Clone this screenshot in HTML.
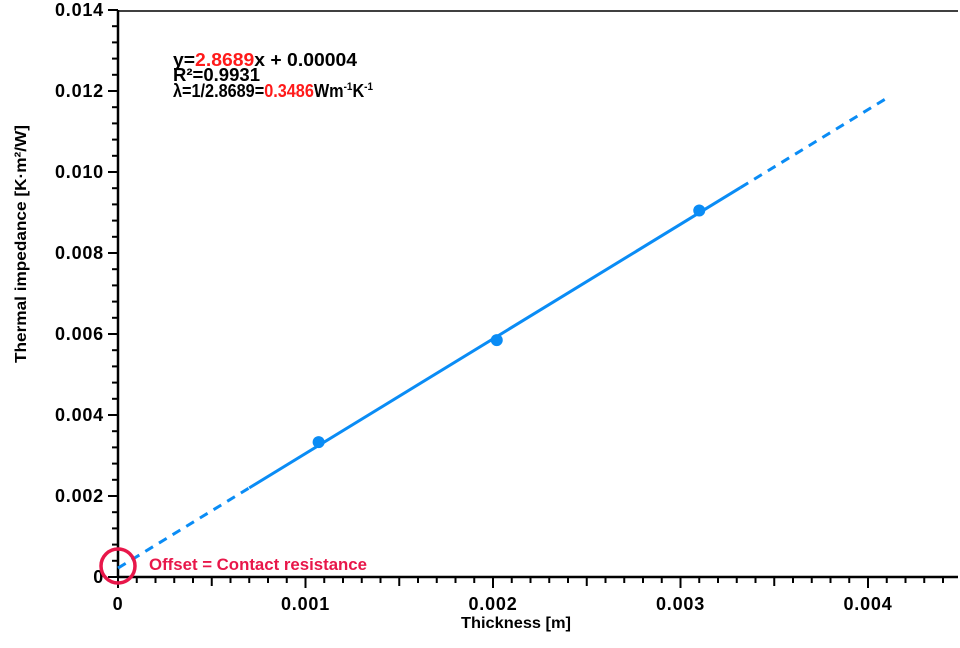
<!DOCTYPE html>
<html><head><meta charset="utf-8"><style>
html,body{margin:0;padding:0;background:#fff;}
svg{display:block;font-family:"Liberation Sans",sans-serif;font-weight:bold;}
</style></head><body>
<svg id="chart" width="960" height="648" viewBox="0 0 960 648">
<g id="axes"></g><g id="marks"></g>
<text x="173" y="66" font-size="18" textLength="184" lengthAdjust="spacingAndGlyphs">y=<tspan fill="#ff1a1a">2.8689</tspan>x + 0.00004</text>
<text x="173" y="81" font-size="18" textLength="87" lengthAdjust="spacingAndGlyphs">R²=0.9931</text>
<text x="173" y="97" font-size="18" textLength="200" lengthAdjust="spacingAndGlyphs">λ=1/2.8689=<tspan fill="#ff1a1a">0.3486</tspan>Wm<tspan font-size="11" dy="-7">-1</tspan><tspan dy="7">K</tspan><tspan font-size="11" dy="-7">-1</tspan></text>
<circle cx="118" cy="566" r="17" fill="none" stroke="#e8174a" stroke-width="3.5"/>
<text x="149" y="570" font-size="17" textLength="218" lengthAdjust="spacingAndGlyphs" fill="#e8174a">Offset = Contact resistance</text>
<text x="516" y="628" font-size="16" text-anchor="middle" textLength="110" lengthAdjust="spacingAndGlyphs">Thickness [m]</text>
<text transform="translate(26,244) rotate(-90)" font-size="16" text-anchor="middle" textLength="238" lengthAdjust="spacingAndGlyphs">Thermal impedance [K·m²/W]</text>
</svg>
<script>
const xTicks=[0,0.001,0.002,0.003,0.004];
const xTickLabels=["0","0.001","0.002","0.003","0.004"];
const yTicks=[0,0.002,0.004,0.006,0.008,0.010,0.012,0.014];
const yTickLabels=["0","0.002","0.004","0.006","0.008","0.010","0.012","0.014"];
const pointsX=[0.00107,0.00202,0.0031];
const pointsY=[0.00333,0.00585,0.00905];
const slope=2.83, intercept=0.00022;
const fitStart=0, solidStart=0.0007, solidEnd=0.00332, fitEnd=0.0041;
const NS="http://www.w3.org/2000/svg";
const X0=118,XS=187.5/0.001,Y0=577,YS=81/0.002;
const sx=v=>X0+v*XS, sy=v=>Y0-v*YS;
const axes=document.getElementById('axes'), marks=document.getElementById('marks');
function mk(t,a,p){const e=document.createElementNS(NS,t);for(const k in a)e.setAttribute(k,a[k]);p.appendChild(e);return e;}
let e=mk('line',{x1:118,y1:577,x2:958,y2:577,stroke:'#000','stroke-width':2.5},axes);


e=mk('line',{x1:118,y1:577,x2:118,y2:10,stroke:'#000','stroke-width':2.5},axes);


e=mk('line',{x1:117,y1:11,x2:958,y2:11,stroke:'#000','stroke-width':1.5},axes);


for(let i=0;i<=44;i++){const x=sx(i*0.0001);const L=i%10==0?11:(i%5==0?9:6);
 e=mk('line',{x1:x,y1:577,x2:x,y2:577+L,stroke:'#000','stroke-width':2},axes);
 
 }
for(let i=0;i<=35;i++){const y=sy(i*0.0004);const L=i%5==0?10:6;
 e=mk('line',{x1:118-L,y1:y,x2:118,y2:y,stroke:'#000','stroke-width':2},axes);
 
 }
xTicks.forEach((v,i)=>{e=mk('text',{x:sx(v),y:610,'font-size':18,'text-anchor':'middle','letter-spacing':0.8},axes);e.textContent=xTickLabels[i];
 
 });
yTicks.forEach((v,i)=>{e=mk('text',{x:104,y:sy(v)+6,'font-size':18,'text-anchor':'end','letter-spacing':0.8},axes);e.textContent=yTickLabels[i];
 
 });
const f=x=>slope*x+intercept;
[[fitStart,solidStart,'9 7','fit-extrapolation-low'],[solidStart,solidEnd,'none','fit-line'],[solidEnd,fitEnd,'9 7','fit-extrapolation-high']].forEach(s=>{
 e=mk('line',{x1:sx(s[0]),y1:sy(f(s[0])),x2:sx(s[1]),y2:sy(f(s[1])),stroke:'#0a8cf5','stroke-width':3,'stroke-dasharray':s[2]},marks);
 
 });
pointsX.forEach((v,i)=>{e=mk('circle',{cx:sx(v),cy:sy(pointsY[i]),r:6,fill:'#0a8cf5'},marks);
 
 });
</script>
</body></html>
